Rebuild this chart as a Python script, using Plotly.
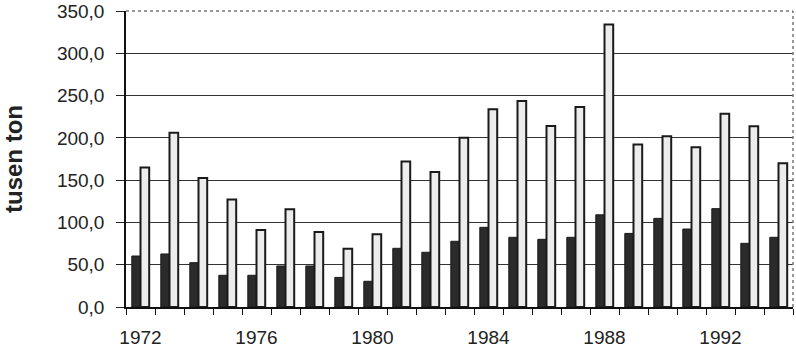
import plotly.graph_objects as go

years = list(range(1972, 1995))
dark_vals = [60.3, 62.7, 52.4, 37.5, 37.5, 48.5, 48.5, 35.0, 30.4, 69.4, 64.7, 77.7,
             94.2, 82.4, 80.0, 82.4, 109.0, 87.0, 104.8, 92.2, 116.3, 75.3, 82.4]
light_vals = [165.0, 206.0, 152.5, 127.0, 91.0, 115.5, 88.7, 69.0, 86.0, 172.0, 159.6, 200.0,
              233.7, 243.6, 214.0, 236.5, 334.0, 192.0, 201.8, 189.0, 228.6, 213.6, 170.0]
y_ticks = [0, 50, 100, 150, 200, 250, 300, 350]
y_ticktext = ["0,0", "50,0", "100,0", "150,0", "200,0", "250,0", "300,0", "350,0"]
x_ticks = [1972, 1976, 1980, 1984, 1988, 1992]
y_title = "tusen ton"

fig = go.Figure()
fig.add_trace(go.Bar(x=years, y=dark_vals, marker=dict(color="#2b2b2b", line=dict(color="#1a1a1a", width=1))))
fig.add_trace(go.Bar(x=years, y=light_vals, marker=dict(color="#ececec", line=dict(color="#1a1a1a", width=2))))

fig.update_layout(
    width=796, height=348,
    margin=dict(l=126, r=3, t=11, b=41),
    paper_bgcolor="white", plot_bgcolor="white",
    barmode="group", bargap=0.4, bargroupgap=0,
    showlegend=False,
    font=dict(family="Liberation Sans, Arial, sans-serif", color="#222"),
)
fig.update_xaxes(
    range=[1971.5, 1994.5], automargin=False,
    tickmode="array", tickvals=x_ticks, ticks="", ticklen=0,
    tickfont=dict(size=19, color="#222"),
    showline=True, linecolor="#111", linewidth=1.5,
    showgrid=False, zeroline=False,
    ticklabelstandoff=12,
    minor=dict(tick0=1971.5, dtick=1, ticks="outside", ticklen=6, tickcolor="#111", tickwidth=1, showgrid=False),
    mirror=False,
)
fig.update_yaxes(
    range=[0, 350], automargin=False,
    tickmode="array", tickvals=y_ticks, ticktext=y_ticktext,
    ticks="outside", ticklen=8, tickcolor="#222", tickwidth=1,
    tickfont=dict(size=19, color="#222"),
    showline=True, linecolor="#111", linewidth=1.5,
    showgrid=True, gridcolor="#333", gridwidth=1,
    zeroline=False,
    ticklabelstandoff=8,
    title=dict(text="<b>" + y_title + "</b>",
               font=dict(size=24, color="#222", family="Liberation Sans, Arial, sans-serif"), standoff=34),
)
# dotted top and right frame
fig.add_shape(type="line", xref="paper", yref="paper", x0=0, x1=1, y0=1, y1=1,
              line=dict(color="#777", width=1.5, dash="dot"))
fig.add_shape(type="line", xref="paper", yref="paper", x0=1, x1=1, y0=0, y1=1,
              line=dict(color="#777", width=1.5, dash="dot"))

fig.write_html("out.html")
